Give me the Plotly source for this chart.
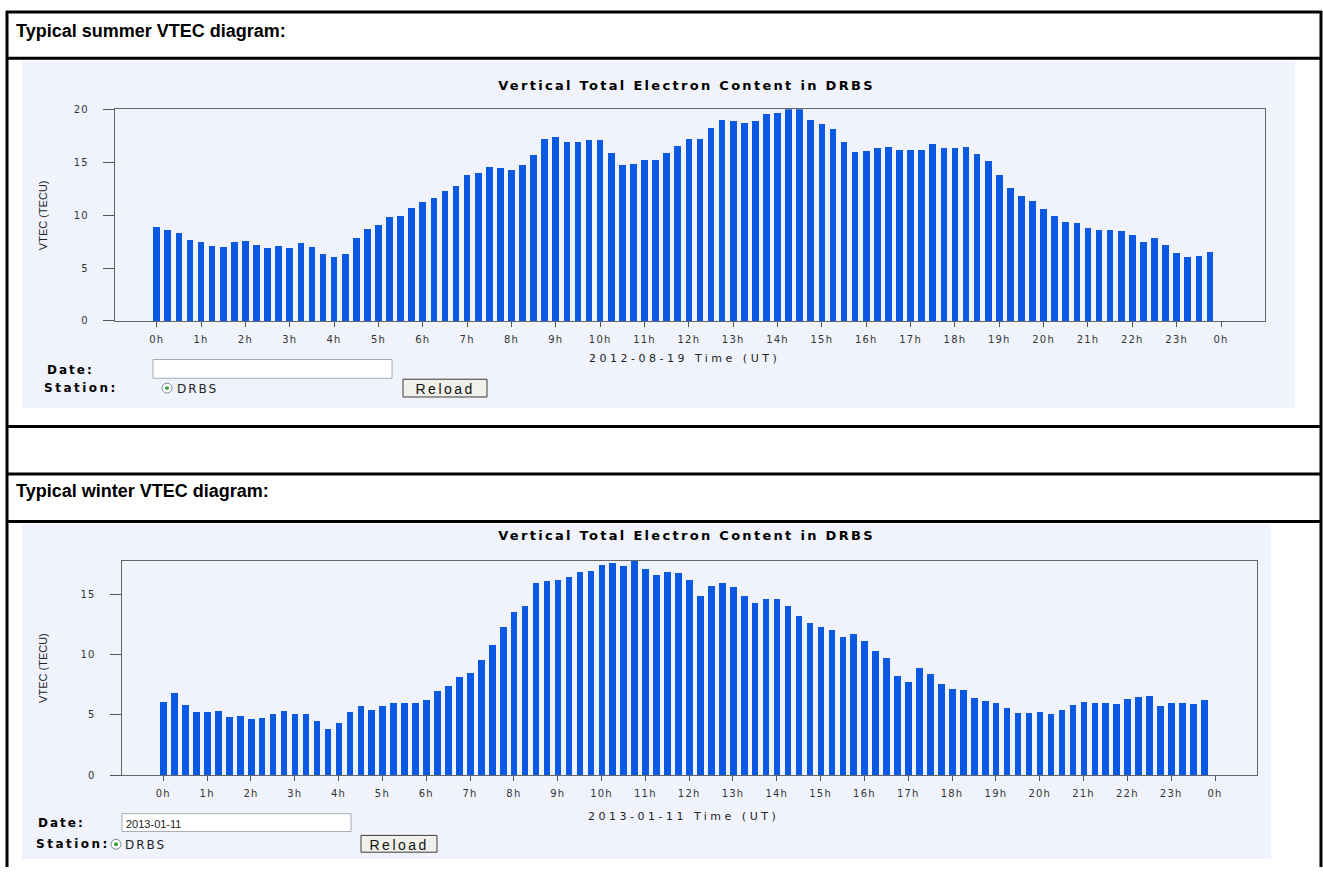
import plotly.graph_objects as go

W, H = 1323, 873

# ---------------- data ----------------
time_labels = [f"{h:02d}:{m:02d}" for h in range(24) for m in (0, 15, 30, 45)]
hour_ticks = list(range(25))
hour_tick_text = [f"{h}h" for h in range(24)] + ["0h"]

summer_vtec = [
    8.85, 8.57, 8.29, 7.60,   7.45, 7.07, 6.98, 7.45,
    7.48, 7.10, 6.85, 7.07,   6.85, 7.32, 6.98, 6.32,
    6.01, 6.29, 7.82, 8.66,   9.03, 9.75, 9.88, 10.69,
    11.21, 11.56, 12.21, 12.71, 13.74, 13.96, 14.49, 14.39,
    14.24, 14.74, 15.64, 17.20, 17.32, 16.88, 16.88, 17.10,
    17.10, 15.86, 14.67, 14.80, 15.17, 15.17, 15.83, 16.51,
    17.17, 17.13, 18.19, 19.00, 18.91, 18.63, 18.82, 19.53,
    19.60, 20.10, 20.10, 19.00, 18.54, 18.13, 16.88, 15.98,
    16.04, 16.32, 16.45, 16.17, 16.10, 16.10, 16.73, 16.36,
    16.36, 16.42, 15.73, 15.05, 13.80, 12.52, 11.74, 11.31,
    10.59, 9.88, 9.28, 9.25,  8.75, 8.54, 8.60, 8.44,
    8.10, 7.41, 7.85, 7.17,   6.39, 6.01, 6.14, 6.45,
]

winter_vtec = [
    6.08, 6.82, 5.86, 5.29,   5.24, 5.35, 4.88, 4.91,
    4.69, 4.77, 5.07, 5.35,   5.13, 5.13, 4.55, 3.90,
    4.34, 5.26, 5.73, 5.43,   5.73, 6.05, 6.03, 6.05,
    6.30, 7.04, 7.44, 8.15,   8.51, 9.60, 10.83, 12.35,
    13.55, 14.04, 15.95, 16.12, 16.20, 16.47, 16.91, 16.96,
    17.43, 17.64, 17.37, 17.78, 17.13, 16.61, 16.83, 16.77,
    16.17, 14.84, 15.74, 15.95, 15.60, 14.84, 14.29, 14.67,
    14.67, 14.02, 13.20, 12.68, 12.33, 12.08, 11.45, 11.73,
    11.18, 10.36, 9.74, 8.21,  7.72, 8.94, 8.43, 7.58,
    7.17, 7.09, 6.44, 6.16,   6.00, 5.56, 5.18, 5.18,
    5.24, 5.13, 5.40, 5.86,   6.08, 6.05, 6.05, 5.97,
    6.35, 6.49, 6.57, 5.78,   6.03, 6.00, 5.92, 6.30,
]

headers = ["Typical summer VTEC diagram:", "Typical winter VTEC diagram:"]
chart_title = "Vertical Total Electron Content in DRBS"
x_titles = ["2012-08-19 Time (UT)", "2013-01-11 Time (UT)"]
y_title = "VTEC (TECU)"
date_values = ["", "2013-01-11"]

# ---------------- helpers ----------------
hours = [int(t[:2]) + int(t[3:]) / 60 for t in time_labels]


def px(x):
    return x / W


def py(y):
    return 1 - y / H


BAR = "#0b58e2"
PANEL = "#f0f3fc"
TICKFONT = dict(family="DejaVu Sans", size=10, color="#333333")

fig = go.Figure()
fig.add_trace(go.Bar(x=hours, y=summer_vtec, width=0.15, marker=dict(color=BAR, line=dict(width=0)),
                     xaxis="x", yaxis="y", showlegend=False, hoverinfo="skip"))
fig.add_trace(go.Bar(x=hours, y=winter_vtec, width=0.15, marker=dict(color=BAR, line=dict(width=0)),
                     xaxis="x2", yaxis="y2", showlegend=False, hoverinfo="skip"))

# plot frames (pixels)
S = dict(l=115, r=1265, t=105.7, b=320, h0=156.7, h24=1221, ymax=20)
Wn = dict(l=121.7, r=1256.7, t=562.7, b=780, h0=163.3, h24=1215, ymax=17.78)


def xrange_for(f):
    pph = (f["h24"] - f["h0"]) / 24
    return [(f["l"] - f["h0"]) / pph, (f["r"] - f["h0"]) / pph]


common_x = dict(tickmode="array", tickvals=hour_ticks, ticktext=hour_tick_text, ticks="outside",
                ticklen=5, tickcolor="#555", showgrid=False, zeroline=False, showline=True,
                linecolor="#666", linewidth=1.3, mirror=True, tickfont=TICKFONT, fixedrange=True,
                ticklabelstandoff=4)
common_y = dict(ticks="outside", ticklen=11, tickcolor="#555", showgrid=False, zeroline=False,
                showline=True, linecolor="#666", linewidth=1.3, mirror=True, tickfont=TICKFONT,
                dtick=5, fixedrange=True, ticklabelstandoff=12)

layout = dict(
    width=W, height=H, autosize=False,
    margin=dict(l=0, r=0, t=0, b=0, pad=0),
    paper_bgcolor="white", plot_bgcolor="rgba(0,0,0,0)",
    bargap=0,
    xaxis=dict(domain=[px(S["l"]), px(S["r"])], range=xrange_for(S), anchor="y", **common_x),
    yaxis=dict(domain=[py(S["b"]), py(S["t"])], range=[0, S["ymax"]], anchor="x", **common_y),
    xaxis2=dict(domain=[px(Wn["l"]), px(Wn["r"])], range=xrange_for(Wn), anchor="y2", **common_x),
    yaxis2=dict(domain=[py(Wn["b"]), py(Wn["t"])], range=[0, Wn["ymax"]], anchor="x2", **common_y),
)
fig.update_layout(**layout)

shapes = []
annotations = []


def rect(x0, y0, x1, y1, fill, line_color=None, lw=0, layer="below"):
    shapes.append(dict(type="rect", xref="paper", yref="paper", x0=px(x0), x1=px(x1),
                       y0=py(y1), y1=py(y0), fillcolor=fill, layer=layer,
                       line=dict(color=line_color or fill, width=lw)))


def hline(y, x0, x1, w=3):
    shapes.append(dict(type="line", xref="paper", yref="paper", x0=px(x0), x1=px(x1),
                       y0=py(y), y1=py(y), line=dict(color="black", width=w), layer="above"))


def vline(x, y0, y1, w=3):
    shapes.append(dict(type="line", xref="paper", yref="paper", x0=px(x), x1=px(x),
                       y0=py(y0), y1=py(y1), line=dict(color="black", width=w), layer="above"))


def text(x, y, s, size=11, family="DejaVu Sans", color="black", xanchor="center", bold=False, angle=0):
    annotations.append(dict(x=px(x), y=py(y), xref="paper", yref="paper", text=(f"<b>{s}</b>" if bold else s),
                            showarrow=False, xanchor=xanchor, yanchor="middle", textangle=angle,
                            font=dict(family=family, size=size, color=color)))


# panels
rect(22, 57, 1295, 408, PANEL)
rect(22, 526, 1271, 865, PANEL)

# table lines
vline(7, 6, 873)
vline(1321, 6, 873)
for yy in (7, 54, 427, 475, 523):
    hline(yy, 6, 1322)

# headers
text(14, 26, headers[0], size=18, family="Liberation Sans", bold=True, xanchor="left")
text(14, 492, headers[1], size=18, family="Liberation Sans", bold=True, xanchor="left")

# chart titles, axis titles
for f, ttl_y, xt_y, xt in ((S, 82, 358, x_titles[0]), (Wn, 537, 822, x_titles[1])):
    cx = (f["l"] + f["r"]) / 2
    text(cx - 3, ttl_y, chart_title, size=13, bold=True)
    text(cx - 6, xt_y, xt, size=11, color="#222")
    text(43, (f["t"] + f["b"]) / 2, y_title, size=11, family="Liberation Sans Narrow, Liberation Sans",
         angle=-90, color="#222")

# forms (centers of the texts, in pixels)
forms = [
    dict(date_c=(70, 370), box=(153, 359, 392, 378), st_c=(81, 388), radio=(167, 388),
         drbs_c=197, btn=(403, 379, 487, 397), val=date_values[0]),
    dict(date_c=(61, 828), box=(122, 819, 351, 837), st_c=(73, 850), radio=(116, 850),
         drbs_c=145, btn=(361, 841, 437, 858), val=date_values[1]),
]
for fm in forms:
    text(fm["date_c"][0], fm["date_c"][1], "Date:", size=12, bold=True)
    x0, y0, x1, y1 = fm["box"]
    rect(x0, y0, x1, y1, "white", "#a5acb5", 1, layer="above")
    if fm["val"]:
        text(x0 + 2, (y0 + y1) / 2 + 1, fm["val"], size=11, family="Liberation Sans", color="#222",
             xanchor="left")
    text(fm["st_c"][0], fm["st_c"][1], "Station:", size=12, bold=True)
    cx, cy = fm["radio"]
    shapes.append(dict(type="circle", xref="paper", yref="paper", x0=px(cx - 5), x1=px(cx + 5),
                       y0=py(cy + 5), y1=py(cy - 5), fillcolor="white", line=dict(color="#7a8a99", width=1),
                       layer="above"))
    shapes.append(dict(type="circle", xref="paper", yref="paper", x0=px(cx - 2), x1=px(cx + 2),
                       y0=py(cy + 2), y1=py(cy - 2), fillcolor="#3aa33a", line=dict(color="#3aa33a", width=0),
                       layer="above"))
    text(fm["drbs_c"], cy + 1, "DRBS", size=12, family="DejaVu Sans", color="#222")
    bx0, by0, bx1, by1 = fm["btn"]
    rect(bx0, by0, bx1, by1, "#f1f0ea", "#3c3c3c", 1, layer="above")
    text((bx0 + bx1) / 2, (by0 + by1) / 2 + 1, "Reload", size=14, family="Liberation Sans", color="#111")

fig.update_layout(shapes=shapes, annotations=annotations)

post = """
document.body.style.margin='0';
document.body.style.overflow='hidden';
var spacing = {
  'Vertical Total Electron Content in DRBS': '2.3px',
  '2012-08-19 Time (UT)': '3.5px',
  '2013-01-11 Time (UT)': '3.5px',
  'Date:': '2px',
  'Station:': '2.5px',
  'DRBS': '2px',
  'Reload': '2.5px'
};
document.querySelectorAll('text.annotation-text').forEach(function(t){
  var k = t.textContent;
  if (spacing[k]) { t.style.letterSpacing = spacing[k]; }
});
document.querySelectorAll('g.xtick text, g.x2tick text, g.ytick text, g.y2tick text').forEach(function(t){
  t.style.letterSpacing = '1.2px';
});
"""

fig.write_html("out.html", config={"displayModeBar": False}, post_script=post)
